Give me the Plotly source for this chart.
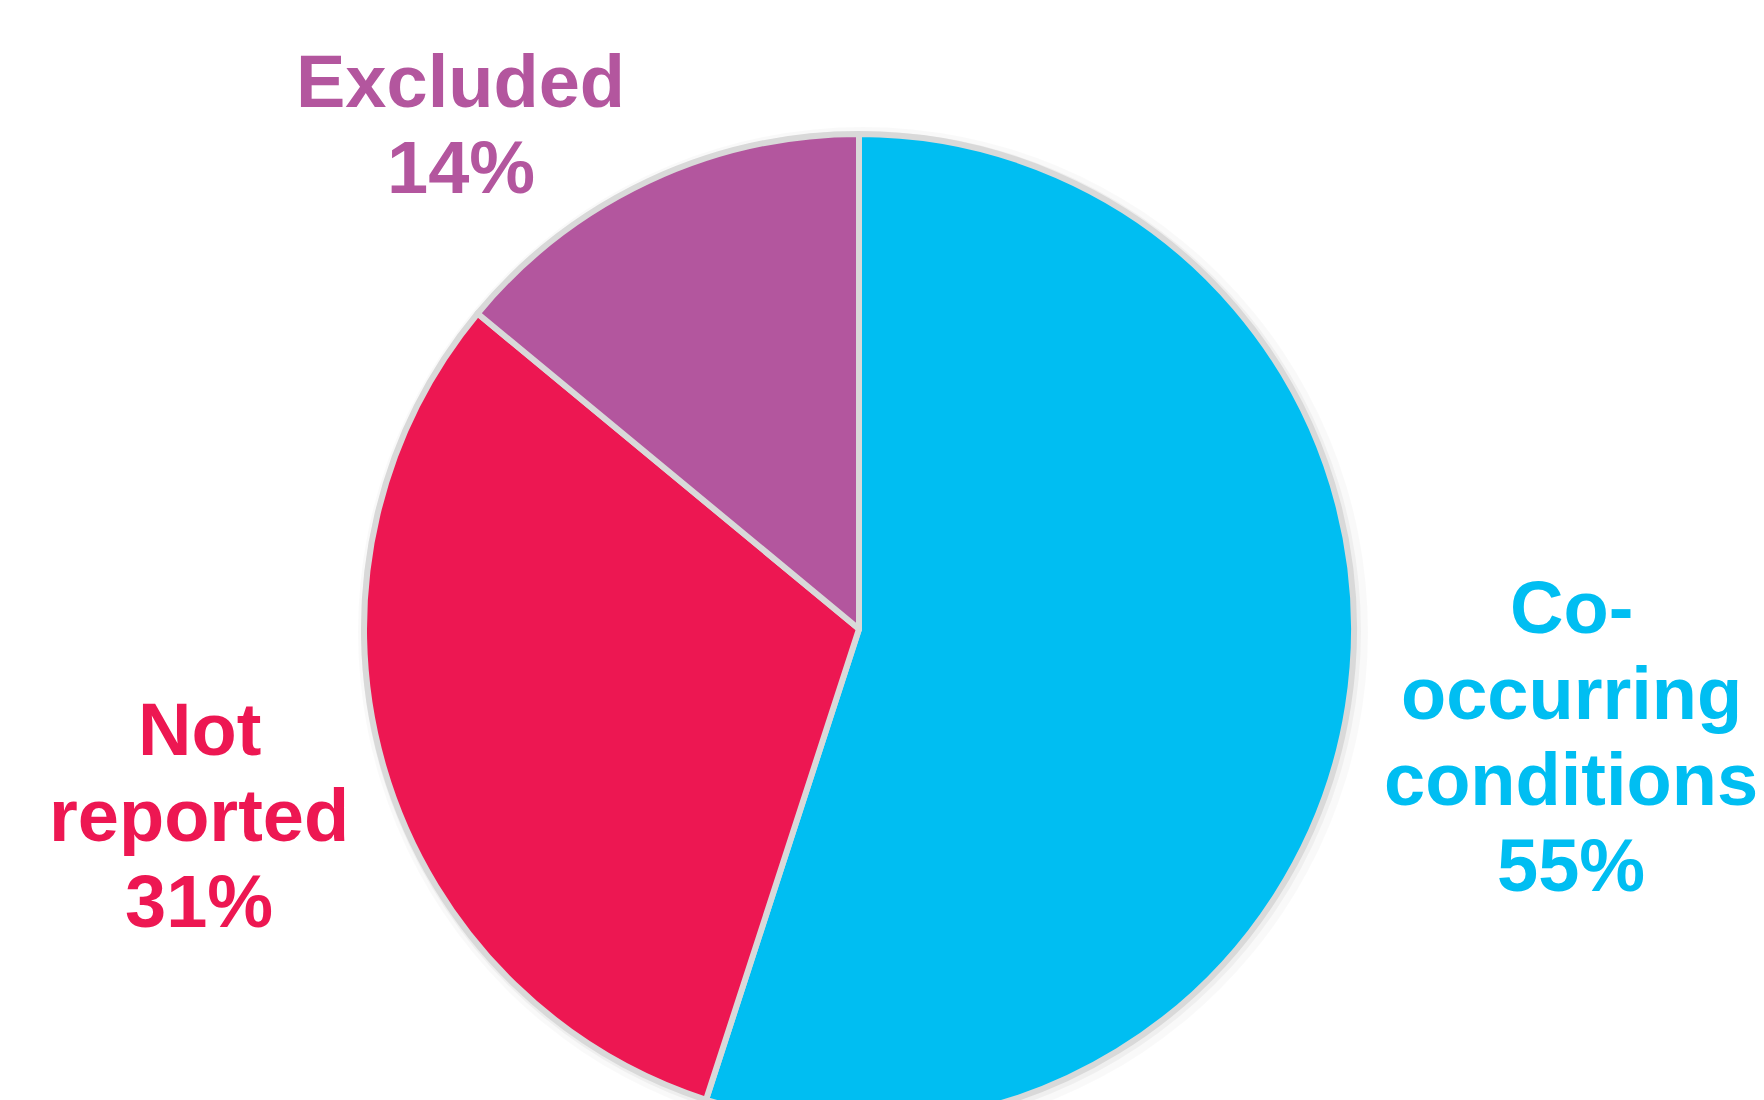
import plotly.graph_objects as go

# ---- data ----
labels = ["Co-occurring conditions", "Not reported", "Excluded"]
label_lines = [["Co-", "occurring", "conditions"], ["Not", "reported"], ["Excluded"]]
values = [55, 31, 14]
colors = ["#00BEF2", "#ED1752", "#B3569E"]

W, H = 1764, 1150
cx, cy, r = 859, 629, 495

def px_x(x):
    return x / W

def px_y(y):
    return (H - y) / H

fig = go.Figure()

# soft shadow behind the pie
for dr, dx, dy, alpha in [(10, 4, 3, 0.025), (5, 2, 2, 0.04)]:
    rr = r + dr
    fig.add_trace(go.Pie(
        values=[1], labels=["shadow"], sort=False, textinfo="none", hoverinfo="skip",
        marker=dict(colors=[f"rgba(0,0,0,{alpha})"], line=dict(width=0)),
        domain=dict(x=[px_x(cx + dx - rr), px_x(cx + dx + rr)],
                    y=[px_y(cy + dy + rr), px_y(cy + dy - rr)]),
        showlegend=False,
    ))

fig.add_trace(go.Pie(
    labels=labels, values=values, sort=False, direction="clockwise", rotation=0,
    textinfo="none", hoverinfo="label+percent",
    marker=dict(colors=colors, line=dict(color="#D9D9D9", width=6)),
    domain=dict(x=[px_x(cx - r), px_x(cx + r)], y=[px_y(cy + r), px_y(cy - r)]),
    showlegend=False,
))

# label positions (center x, first baseline y) in px
label_pos = [(1571, 630), (199, 752), (461, 104)]
fs = 74
line_gap = 86
for lines, val, col, (lx, by) in zip(label_lines, values, colors, label_pos):
    all_lines = lines + [f"{val}%"]
    for i, t in enumerate(all_lines):
        base = by + i * line_gap
        fig.add_annotation(
            x=px_x(lx), y=px_y(base - 0.30 * fs), xref="paper", yref="paper",
            text=f"<b>{t}</b>", showarrow=False, xanchor="center", yanchor="middle",
            font=dict(family="Liberation Sans, Arial", size=fs, color=col),
        )

fig.update_layout(
    width=W, height=H, margin=dict(l=0, r=0, t=0, b=0),
    paper_bgcolor="white", plot_bgcolor="white",
)

fig.write_html(
    "out.html",
    post_script="document.documentElement.style.overflow='hidden';document.body.style.overflow='hidden';document.body.style.margin='0';",
)
